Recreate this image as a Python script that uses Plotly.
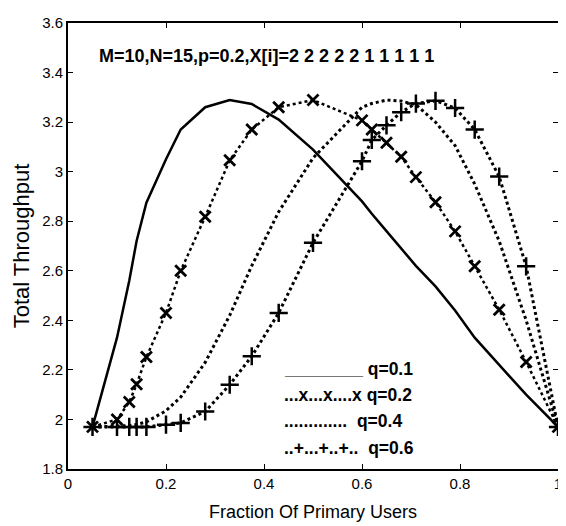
import plotly.graph_objects as go

x_vals = [0.05, 0.1, 0.125, 0.14, 0.16, 0.2, 0.23, 0.28, 0.33, 0.375, 0.43, 0.5,
          0.6, 0.62, 0.65, 0.68, 0.71, 0.75, 0.79, 0.83, 0.88, 0.935, 1.0]

q01 = [1.97, 2.33, 2.56, 2.72, 2.875, 3.05, 3.17, 3.26, 3.289, 3.273, 3.21, 3.089,
       2.88, 2.83, 2.76, 2.69, 2.62, 2.537, 2.44, 2.33, 2.22, 2.10, 1.97]
q02 = [1.97, 2.0, 2.07, 2.142, 2.252, 2.43, 2.60, 2.818, 3.046, 3.17, 3.26, 3.289,
       3.207, 3.17, 3.117, 3.06, 2.978, 2.877, 2.759, 2.618, 2.443, 2.232, 1.97]
q04 = [1.97, 1.972, 1.975, 1.98, 1.99, 2.035, 2.09, 2.23, 2.42, 2.62, 2.838, 3.055,
       3.26, 3.275, 3.289, 3.285, 3.27, 3.2, 3.105, 2.95, 2.72, 2.40, 1.97]
q06 = [1.97, 1.97, 1.97, 1.97, 1.97, 1.979, 1.986, 2.032, 2.14, 2.255, 2.43, 2.713,
       3.042, 3.128, 3.187, 3.24, 3.275, 3.286, 3.257, 3.17, 2.98, 2.618, 1.97]

x_ticks = [0, 0.2, 0.4, 0.6, 0.8, 1.0]
x_tick_text = ["0", "0.2", "0.4", "0.6", "0.8", "1"]
y_ticks = [1.8, 2.0, 2.2, 2.4, 2.6, 2.8, 3.0, 3.2, 3.4, 3.6]
y_tick_text = ["1.8", "2", "2.2", "2.4", "2.6", "2.8", "3", "3.2", "3.4", "3.6"]

title_text = "M=10,N=15,p=0.2,X[i]=2 2 2 2 2 1 1 1 1 1"
legend_texts = [
    "________\u00a0q=0.1",
    "...x...x....x\u00a0q=0.2",
    ".............\u00a0\u00a0q=0.4",
    "..+...+..+..\u00a0\u00a0q=0.6",
]

FONT = "Liberation Sans, Arial, sans-serif"

fig = go.Figure()
fig.add_trace(go.Scatter(x=x_vals, y=q01, mode="lines",
                         line=dict(color="black", width=2.5), name="q=0.1"))
fig.add_trace(go.Scatter(x=x_vals, y=q04, mode="lines",
                         line=dict(color="black", width=3, dash="dot"), name="q=0.4"))
fig.add_trace(go.Scatter(x=x_vals, y=q02, mode="lines+markers",
                         line=dict(color="black", width=2.5, dash="dot"),
                         marker=dict(symbol="x-thin", size=11, color="black",
                                     line=dict(color="black", width=2.8)),
                         name="q=0.2"))
fig.add_trace(go.Scatter(x=x_vals, y=q06, mode="lines+markers",
                         line=dict(color="black", width=3, dash="dot"),
                         marker=dict(symbol="cross-thin", size=13, color="black",
                                     line=dict(color="black", width=2.5)),
                         name="q=0.6"))

annotations = [dict(text="<b>" + title_text + "</b>", x=0.059, y=0.925,
                    xref="paper", yref="paper",
                    xanchor="left", yanchor="middle", showarrow=False,
                    font=dict(family=FONT, size=18, color="black"))]
legend_y = [0.224, 0.167, 0.108, 0.048]
for t, yy in zip(legend_texts, legend_y):
    annotations.append(dict(text="<b>" + t + "</b>", x=0.436, y=yy, xref="paper",
                            yref="paper", xanchor="left", yanchor="middle",
                            showarrow=False,
                            font=dict(family=FONT, size=17.5, color="black")))

fig.update_layout(
    width=566, height=526,
    margin=dict(l=60, r=16, t=6, b=65),
    paper_bgcolor="white", plot_bgcolor="white",
    showlegend=False,
    font=dict(family=FONT, size=15, color="black"),
    annotations=annotations,
    xaxis=dict(range=[0, 1], tickvals=x_ticks, ticktext=x_tick_text,
               ticks="inside", ticklen=5, tickwidth=1, tickcolor="black",
               showline=True, linecolor="black", linewidth=2, mirror="ticks",
               showgrid=False, zeroline=False, ticklabeloverflow="allow",
               tickfont=dict(size=15),
               title=dict(text="Fraction Of Primary Users", font=dict(size=18),
                          standoff=14)),
    yaxis=dict(range=[1.8, 3.6], tickvals=y_ticks, ticktext=y_tick_text,
               ticks="inside", ticklen=5, tickwidth=1, tickcolor="black",
               showline=True, linecolor="black", linewidth=2, mirror="ticks",
               showgrid=False, zeroline=False, ticklabeloverflow="allow",
               tickfont=dict(size=15),
               title=dict(text="Total Throughput", font=dict(size=22),
                          standoff=6)),
)

fig.write_html("out.html")
